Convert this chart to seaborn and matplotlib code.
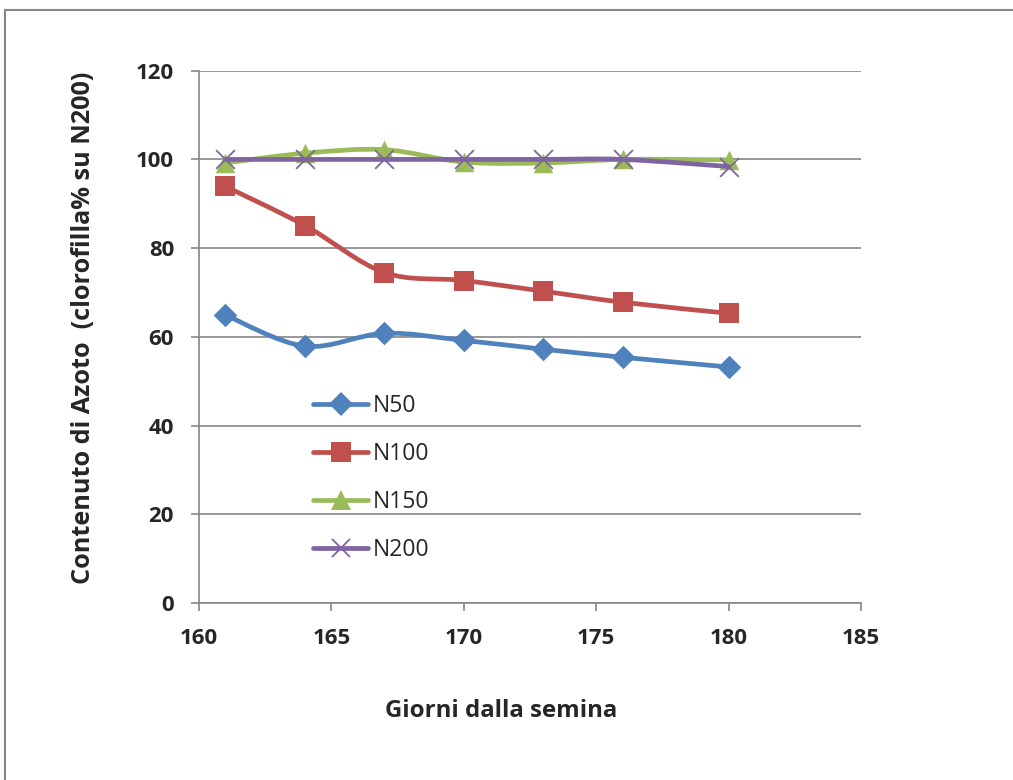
import numpy as np
import pandas as pd
import matplotlib
matplotlib.use("Agg")
import matplotlib.pyplot as plt
import seaborn as sns
from matplotlib.path import Path
from matplotlib.patches import PathPatch, Rectangle
from matplotlib.lines import Line2D

# ---- data ----
days = [161, 164, 167, 170, 173, 176, 180]
n50 = [64.9, 57.9, 60.8, 59.2, 57.2, 55.4, 53.2]
n100 = [93.9, 85.1, 74.5, 72.7, 70.3, 67.8, 65.3]
n150 = [99.2, 101.4, 102.2, 99.4, 99.2, 100.0, 99.9]
n200 = [100.0, 100.0, 100.0, 100.0, 100.0, 100.0, 98.4]
series_names = ["N50", "N100", "N150", "N200"]
x_ticks = [160, 165, 170, 175, 180, 185]
y_ticks = [0, 20, 40, 60, 80, 100, 120]
x_label = "Giorni dalla semina"
y_label = "Contenuto di Azoto  (clorofilla% su N200)"

colors = ["#4F81BD", "#C0504D", "#9BBB59", "#8064A2"]
markers = ["D", "s", "^", "x"]
msizes = [12.0, 14.0, 14.0, 13.5]

sns.set_theme(style="white")
plt.rcParams["font.family"] = ["Open Sans", "DejaVu Sans"]

W, H = 1013, 780
fig = plt.figure(figsize=(W / 100, H / 100), dpi=100)
ax = fig.add_axes([199 / W, 1 - 603 / H, (861 - 199) / W, (603 - 70.7) / H])

grid_c = "#868686"


def smooth_path(xs, ys):
    pts = np.column_stack([xs, ys]).astype(float)
    n = len(pts)
    verts = [pts[0]]
    codes = [Path.MOVETO]
    for i in range(n - 1):
        p0 = pts[i - 1] if i > 0 else pts[i]
        p1 = pts[i]
        p2 = pts[i + 1]
        p3 = pts[i + 2] if i + 2 < n else pts[i + 1]
        c1 = p1 + (p2 - p0) / 6.0
        c2 = p2 - (p3 - p1) / 6.0
        verts += [c1, c2, p2]
        codes += [Path.CURVE4] * 3
    return Path(verts, codes)


all_vals = [n50, n100, n150, n200]
df = pd.DataFrame({
    "giorno": days * 4,
    "valore": sum(all_vals, []),
    "serie": sum([[s] * len(days) for s in series_names], []),
})

LW = 3.4
for k, (name, vals) in enumerate(zip(series_names, all_vals)):
    z = 3 + k * 2
    patch = PathPatch(smooth_path(days, vals), facecolor="none",
                      edgecolor=colors[k], lw=LW, zorder=z,
                      capstyle="round", joinstyle="round")
    ax.add_patch(patch)
    sub = df[df["serie"] == name]
    if markers[k] == "x":
        sns.scatterplot(data=sub, x="giorno", y="valore", marker="x",
                        s=msizes[k] ** 2, color=colors[k], linewidth=1.3,
                        ax=ax, zorder=z + 1, legend=False)
    else:
        sns.scatterplot(data=sub, x="giorno", y="valore", marker=markers[k],
                        s=msizes[k] ** 2, color=colors[k], edgecolor=colors[k],
                        linewidth=0, ax=ax, zorder=z + 1, legend=False)

ax.set_xlim(160, 185)
ax.set_ylim(0, 120)
ax.set_xticks(x_ticks)
ax.set_yticks(y_ticks)
ax.set_xticklabels([str(t) for t in x_ticks], fontsize=16, fontweight="bold")
ax.set_yticklabels([str(t) for t in y_ticks], fontsize=16, fontweight="bold")
ax.tick_params(axis="both", direction="out", length=6, width=1.2,
               color=grid_c, bottom=True, left=True)
ax.tick_params(axis="x", pad=12)
ax.tick_params(axis="y", pad=12)

ax.yaxis.grid(True, color=grid_c, lw=1.2)
ax.xaxis.grid(False)
ax.set_axisbelow(True)
for s in ["top", "right"]:
    ax.spines[s].set_visible(False)
for s in ["left", "bottom"]:
    ax.spines[s].set_color(grid_c)
    ax.spines[s].set_linewidth(1.2)

ax.set_xlabel("")
ax.set_ylabel("")
fig.text(501 / W, 1 - 711 / H, x_label, fontsize=17.3, fontweight="bold",
         ha="center", va="center")
fig.text(84 / W, 1 - 328 / H, y_label, fontsize=18.2, fontweight="bold",
         ha="center", va="center", rotation=90)

handles = []
for k in range(4):
    if markers[k] == "x":
        h = Line2D([], [], color=colors[k], lw=LW, marker="x",
                   markersize=msizes[k], markeredgewidth=1.3,
                   solid_capstyle="round")
    else:
        h = Line2D([], [], color=colors[k], lw=LW, marker=markers[k],
                   markersize=msizes[k], markeredgewidth=0,
                   solid_capstyle="round")
    handles.append(h)
leg = ax.legend(handles, series_names, loc="upper left",
                bbox_to_anchor=(313 / W, 1 - 394 / H),
                bbox_transform=fig.transFigure, frameon=False,
                fontsize=16.5, handlelength=2.4, handletextpad=0.2,
                labelspacing=1.05, borderpad=0, borderaxespad=0)

fig.add_artist(Rectangle((5 / W, -0.1), 1.2, 1.1 - 10 / H,
                         transform=fig.transFigure, fill=False,
                         edgecolor="#878787", lw=1.5))

fig.savefig("out.png", dpi=100)
